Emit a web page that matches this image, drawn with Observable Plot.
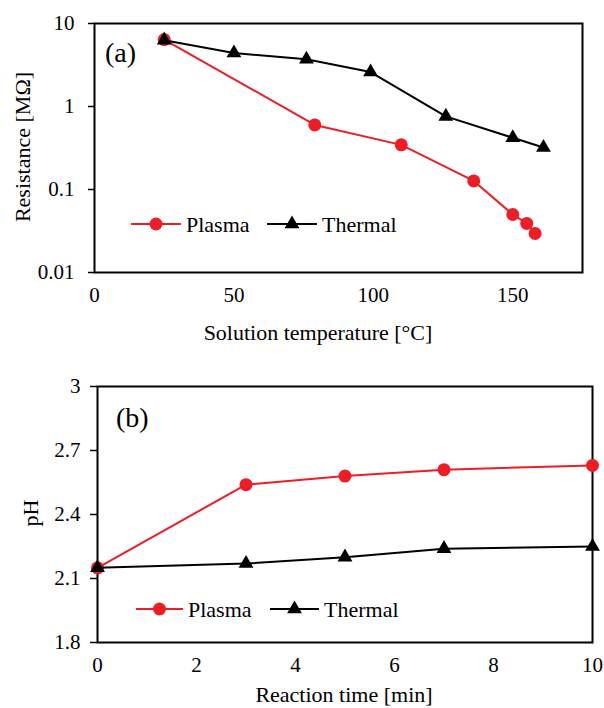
<!DOCTYPE html>
<html><head><meta charset="utf-8">
<script src="https://cdn.jsdelivr.net/npm/d3@7"></script>
<script src="https://cdn.jsdelivr.net/npm/@observablehq/plot@0.6"></script>
<style>
body{margin:0;background:#fff;}
#c{position:relative;width:604px;height:708px;background:#fff;}
#c > svg{position:absolute;left:0;}
#c svg text{font-family:"Liberation Serif","Times New Roman",serif;}
</style></head><body><div id="c"></div>
<script>
// ---- data ----
const tempPlasma = [25, 79, 110, 136, 150, 155, 158];
const resPlasma  = [6.4, 0.6, 0.345, 0.127, 0.05, 0.039, 0.0295];
const tempThermal = [25, 50, 76, 99, 126, 150, 161];
const resThermal  = [6.3, 4.4, 3.7, 2.6, 0.76, 0.42, 0.32];
const timePlasma  = [0, 3, 5, 7, 10];
const phPlasma    = [2.15, 2.54, 2.58, 2.61, 2.63];
const timeThermal = [0, 3, 5, 7, 10];
const phThermal   = [2.15, 2.17, 2.20, 2.24, 2.25];
const resTicks  = [0.01, 0.1, 1, 10];
const tempTicks = [0, 50, 100, 150];
const phTicks   = [1.8, 2.1, 2.4, 2.7, 3];
const timeTicks = [0, 2, 4, 6, 8, 10];
const seriesNames = ["Plasma", "Thermal"];
const panelLabels = ["(a)", "(b)"];
const xTitles = ["Solution temperature [°C]", "Reaction time [min]"];
const yTitles = ["Resistance [MΩ]", "pH"];

const FONT = '"Liberation Serif","Times New Roman",serif';
const STYLE = 'font-family:"Liberation Serif","Times New Roman",serif;font-size:21px;background:transparent;color:#000;';
const RED = "#ee1c25", BLACK = "#000000";
const zip = (xs, ys) => xs.map((x, i) => ({x, y: ys[i]}));
const c = document.getElementById("c");

function seriesMarks(px, py, tx, ty) {
  return [
    Plot.line(zip(px, py), {x: "x", y: "y", stroke: RED, strokeWidth: 2}),
    Plot.dot(zip(px, py), {x: "x", y: "y", r: 6.5, fill: RED, stroke: "none"}),
    Plot.line(zip(tx, ty), {x: "x", y: "y", stroke: BLACK, strokeWidth: 2}),
    Plot.dot(zip(tx, ty), {x: "x", y: "y", symbol: "triangle", r: 5.5, fill: BLACK, stroke: "none"})
  ];
}

const a = Plot.plot({
  width: 604, height: 350,
  marginLeft: 94, marginRight: 22, marginTop: 23, marginBottom: 78,
  style: STYLE,
  x: {domain: [0, 175]},
  y: {type: "log", domain: [0.01, 10]},
  marks: [
    Plot.axisY({ticks: resTicks, tickFormat: d => String(d), tickSize: 6, tickPadding: 14, label: null, strokeWidth: 1.5, fontSize: 21}),
    Plot.axisX({ticks: tempTicks, tickSize: 0, tickPadding: 15, label: null, fontSize: 21}),
    Plot.frame({stroke: BLACK, strokeWidth: 2}),
    ...seriesMarks(tempPlasma, resPlasma, tempThermal, resThermal)
  ]
});
a.style.top = "0px";
c.appendChild(a);

const b = Plot.plot({
  width: 604, height: 358,
  marginLeft: 97, marginRight: 12, marginTop: 36, marginBottom: 66,
  style: STYLE,
  x: {domain: [0, 10]},
  y: {domain: [1.8, 3]},
  marks: [
    Plot.axisY({ticks: phTicks, tickFormat: d => String(d), tickSize: 7, tickPadding: 10, label: null, strokeWidth: 1.5, fontSize: 21}),
    Plot.axisX({ticks: timeTicks, tickSize: 0, tickPadding: 15, label: null, fontSize: 21}),
    Plot.frame({stroke: BLACK, strokeWidth: 2}),
    ...seriesMarks(timePlasma, phPlasma, timeThermal, phThermal)
  ]
});
b.style.top = "350px";
c.appendChild(b);

// ---- overlay: titles, panel labels, legends ----
const o = d3.select(c).append("svg")
  .attr("width", 604).attr("height", 708)
  .style("position", "absolute").style("top", "0px").style("left", "0px")
  .attr("font-family", FONT).attr("fill", "#000");

// panel labels
o.append("text").attr("x", 105).attr("y", 62).attr("font-size", 28).text(panelLabels[0]);
o.append("text").attr("x", 116).attr("y", 427).attr("font-size", 28).text(panelLabels[1]);

// axis titles
o.append("text").attr("x", 318).attr("y", 340).attr("font-size", 22).attr("text-anchor", "middle").text(xTitles[0]);
o.append("text").attr("x", 344).attr("y", 702).attr("font-size", 22).attr("text-anchor", "middle").text(xTitles[1]);
o.append("text").attr("transform", "translate(30,147) rotate(-90)").attr("font-size", 22).attr("text-anchor", "middle").text(yTitles[0]);
o.append("text").attr("transform", "translate(38,513) rotate(-90)").attr("font-size", 22).attr("text-anchor", "middle").text(yTitles[1]);

// legends
const tri = d3.symbol(d3.symbolTriangle, Math.PI * 5.5 * 5.5)();
function legend(y, p) {
  const g = o.append("g");
  g.append("line").attr("x1", p[0]).attr("x2", p[1]).attr("y1", y).attr("y2", y).attr("stroke", RED).attr("stroke-width", 2);
  g.append("circle").attr("cx", (p[0] + p[1]) / 2).attr("cy", y).attr("r", 6.5).attr("fill", RED);
  g.append("text").attr("x", p[2]).attr("y", y).attr("dy", "0.35em").attr("font-size", 22).text(seriesNames[0]);
  g.append("line").attr("x1", p[3]).attr("x2", p[4]).attr("y1", y).attr("y2", y).attr("stroke", BLACK).attr("stroke-width", 2);
  g.append("path").attr("d", tri).attr("transform", `translate(${(p[3] + p[4]) / 2},${y})`).attr("fill", BLACK);
  g.append("text").attr("x", p[5]).attr("y", y).attr("dy", "0.35em").attr("font-size", 22).text(seriesNames[1]);
}
legend(224, [131, 181, 186, 267, 317, 322]);
legend(609, [136, 183, 188, 270, 319, 324]);
</script>
</body></html>
